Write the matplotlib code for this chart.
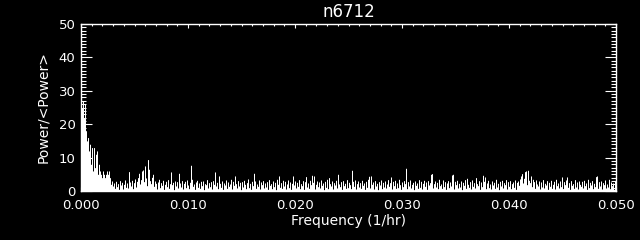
import numpy as np
import matplotlib
matplotlib.use("Agg")
import matplotlib.pyplot as plt
from matplotlib.ticker import MultipleLocator, FormatStrFormatter

title = "n6712"
x_label = "Frequency (1/hr)"
y_label = "Power/<Power>"
f_max = 0.050
x_ticks = [0.000, 0.010, 0.020, 0.030, 0.040, 0.050]
y_ticks = [0, 10, 20, 30, 40, 50]

# normalized power, one value per frequency bin from 0 to 0.05 1/hr
power = [
    20, 25, 27, 22, 26, 18, 15, 16, 12, 14, 8, 13, 6, 13, 7, 11, 12, 5, 8, 6,
    5, 4, 6, 5, 4, 5, 6, 5, 6, 4, 2, 3, 1.5, 2.4, 0.8, 2.9, 1.3, 2.2, 0.5, 3.1,
    1.8, 2.6, 0.6, 2.0, 3.3, 1.1, 2.4, 0.9, 5.8, 2.7, 1.5, 3.2, 0.7, 2.5, 3.6, 1.2, 2.9, 4.0, 5.3, 2.1,
    3.4, 6.0, 6.3, 2.8, 7.5, 3.9, 1.6, 9.4, 6.5, 3.1, 2.2, 4.1, 5.0, 1.4, 3.0, 2.3, 0.6, 2.7, 3.5, 1.0,
    2.5, 1.7, 3.2, 0.5, 2.0, 2.9, 1.3, 3.4, 0.8, 2.2, 5.7, 1.9, 2.6, 0.4, 3.0, 1.5, 2.8, 0.9, 5.3, 2.4,
    1.2, 3.1, 0.6, 2.3, 2.9, 1.0, 3.3, 1.8, 0.7, 2.6, 7.7, 3.5, 1.4, 2.1, 0.5, 2.7, 3.2, 1.1, 2.4, 0.8,
    2.9, 1.6, 3.0, 0.4, 2.2, 1.9, 3.4, 0.9, 2.5, 1.3, 2.8, 0.6, 3.1, 2.0, 5.7, 1.5, 2.6, 0.7, 4.5, 2.3,
    1.1, 3.0, 0.5, 2.4, 1.8, 3.3, 0.8, 2.7, 1.4, 2.1, 3.5, 0.6, 2.9, 1.7, 4.5, 2.2, 0.9, 3.1, 1.5, 2.6,
    0.4, 2.8, 1.2, 3.2, 2.0, 0.7, 2.5, 3.6, 1.0, 2.3, 0.5, 2.9, 1.6, 5.3, 3.0, 0.8, 2.1, 1.4, 3.3, 0.6,
    2.7, 1.9, 3.1, 0.9, 2.4, 1.2, 2.8, 0.5, 3.4, 1.7, 2.2, 0.7, 3.0, 1.3, 2.6, 0.4, 3.5, 2.0, 4.5, 1.1,
    2.5, 0.8, 3.2, 1.5, 2.9, 0.6, 2.1, 3.3, 1.0, 2.7, 0.5, 2.3, 4.5, 1.8, 3.0, 0.9, 2.6, 1.4, 3.4, 0.7,
    2.2, 1.6, 3.1, 0.5, 2.8, 4.3, 1.2, 2.4, 0.8, 3.2, 1.9, 4.7, 2.6, 4.5, 0.6, 2.0, 3.0, 1.3, 2.7, 0.9,
    3.3, 1.7, 2.4, 0.4, 2.9, 1.1, 3.5, 0.7, 4.0, 2.2, 1.5, 3.0, 0.6, 2.5, 1.8, 3.2, 0.9, 5.0, 2.1, 1.3,
    2.8, 0.5, 3.1, 1.6, 2.3, 0.8, 3.4, 1.0, 2.6, 1.9, 0.7, 6.2, 2.9, 1.4, 3.3, 0.6, 2.2, 3.0, 1.2, 2.5,
    0.8, 3.2, 1.7, 2.4, 0.5, 2.9, 1.1, 3.5, 4.4, 0.9, 4.5, 2.0, 2.7, 0.6, 3.1, 1.5, 2.3, 0.4, 2.8, 1.8,
    3.3, 0.7, 2.6, 1.2, 3.0, 0.9, 2.1, 3.4, 1.4, 2.5, 4.2, 0.6, 2.9, 1.6, 3.2, 0.8, 2.4, 1.0, 3.5, 1.9,
    0.5, 2.7, 1.3, 3.1, 2.2, 6.8, 0.7, 2.8, 1.5, 3.3, 0.9, 2.0, 2.6, 0.4, 3.0, 1.7, 2.4, 0.8, 3.4, 1.1,
    2.9, 0.6, 2.3, 3.2, 1.4, 2.7, 0.5, 3.1, 1.8, 2.5, 5.0, 5.2, 0.9, 2.2, 3.0, 1.2, 2.6, 0.7, 3.5, 1.6,
    2.1, 0.8, 3.3, 1.3, 2.8, 0.5, 2.4, 3.1, 1.0, 2.7, 1.5, 4.8, 5.0, 0.6, 2.9, 1.9, 3.2, 0.9, 2.3, 1.2,
    3.0, 0.4, 2.6, 1.7, 3.4, 0.8, 3.8, 2.0, 1.1, 2.8, 0.6, 3.3, 1.4, 2.5, 0.9, 4.0, 2.2, 1.6, 3.1, 0.5,
    2.7, 1.3, 4.7, 2.9, 4.2, 0.7, 2.4, 3.2, 1.0, 2.1, 0.6, 3.0, 1.8, 2.6, 0.8, 3.5, 1.2, 2.3, 0.4, 2.9,
    1.5, 3.2, 0.9, 2.5, 1.9, 3.4, 0.6, 2.8, 1.4, 3.1, 0.7, 2.2, 2.7, 1.1, 3.3, 0.5, 2.6, 3.0, 1.7, 3.6,
    4.5, 5.2, 2.4, 3.8, 5.8, 6.0, 1.9, 6.2, 3.2, 2.5, 4.5, 1.3, 3.5, 2.8, 0.8, 3.3, 2.1, 1.5, 3.0, 0.6,
    2.7, 1.2, 3.4, 0.9, 2.3, 1.8, 3.1, 0.5, 2.6, 1.4, 3.2, 0.8, 2.0, 2.9, 0.6, 3.5, 1.6, 2.4, 0.9, 3.0,
    1.3, 4.2, 0.7, 2.8, 1.9, 3.3, 4.2, 1.1, 2.5, 0.5, 3.1, 1.7, 2.2, 0.8, 3.4, 1.2, 2.7, 0.6, 3.0, 2.0,
    1.4, 2.9, 0.9, 3.2, 1.6, 2.4, 0.5, 3.5, 1.0, 2.6, 1.8, 3.1, 0.7, 2.3, 1.3, 4.3, 4.5, 0.8, 2.8, 1.5,
    3.0, 0.6, 2.5, 1.9, 3.3, 0.9, 2.1, 1.2, 3.5, 0.7, 2.7, 1.6, 2.4, 0.5, 2.9, 1.8,
]
freq = np.linspace(0.0, f_max, len(power))

plt.rcParams['font.family'] = ['DejaVu Sans']
fig = plt.figure(figsize=(6.4, 2.4), dpi=100, facecolor='black')
ax = fig.add_axes([81/640, 1 - 191/240, 535/640, 167/240], facecolor='black')

ax.fill_between(freq, power, step='mid', color='white', lw=0, antialiased=False)

ax.set_xlim(0, f_max)
ax.set_ylim(0, 50)
ax.set_xticks(x_ticks)
ax.set_yticks(y_ticks)
ax.xaxis.set_major_formatter(FormatStrFormatter('%.3f'))
ax.xaxis.set_minor_locator(MultipleLocator(0.001))
ax.yaxis.set_minor_locator(MultipleLocator(1))

for s in ax.spines.values():
    s.set_color('white')
    s.set_linewidth(1.0)

ax.tick_params(axis='both', which='both', direction='in', colors='white',
               top=True, right=True, labelsize=9.5, width=0.8)
ax.tick_params(axis='y', which='major', length=7.7, pad=4)
ax.tick_params(axis='y', which='minor', length=3.8)
ax.tick_params(axis='x', which='major', length=2.6, pad=6)
ax.tick_params(axis='x', which='minor', length=1.3)

ax.set_title(title, color='white', fontsize=12, pad=5)
ax.set_xlabel(x_label, color='white', fontsize=10, labelpad=1)
ax.set_ylabel(y_label, color='white', fontsize=10, labelpad=6)

fig.savefig('out.png', dpi=100, facecolor='black')
